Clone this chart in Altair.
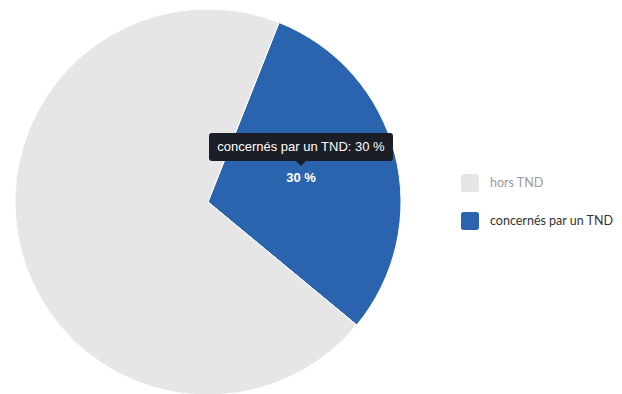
import math
import altair as alt
import pandas as pd

categories = ["concernés par un TND", "hors TND"]
values = [30, 70]
labels = ["30 %", ""]
tooltips = ["concernés par un TND: 30 %", ""]
order = [0, 1]
legend_order = ["hors TND", "concernés par un TND"]
colors = ["#e6e6e6", "#2a64af"]

df = pd.DataFrame({
    "category": categories,
    "value": values,
    "label": labels,
    "tip": tooltips,
    "order": order,
})

start = math.radians(21.6)
theta_scale = alt.Scale(range=[start, start + 2 * math.pi])
CX, CY, R = 208, 202, 193

base = alt.Chart(df)

arc = base.mark_arc(outerRadius=R, stroke="white", strokeWidth=1).encode(
    theta=alt.Theta("value:Q", stack=True, scale=theta_scale),
    order=alt.Order("order:Q"),
    color=alt.Color(
        "category:N",
        scale=alt.Scale(domain=legend_order, range=colors),
        legend=alt.Legend(
            title=None,
            orient="none",
            legendX=461,
            legendY=174,
            symbolType="M-1,-0.7Q-1,-1,-0.7,-1L0.7,-1Q1,-1,1,-0.7L1,0.7Q1,1,0.7,1L-0.7,1Q-1,1,-1,0.7Z",
            symbolSize=324,
            symbolStrokeWidth=0,
            rowPadding=20,
            labelOffset=11,
            labelFont="Lato",
            labelFontSize=12.5,
            labelColor=alt.ExprRef(expr="datum.label == 'hors TND' ? '#9a9a9a' : '#333333'"),
            labelLimit=300,
        ),
    ),
    x=alt.value(CX),
    y=alt.value(CY),
)

label = base.mark_text(radius=96, font="Liberation Sans", fontSize=13, fontWeight="bold", color="white").encode(
    theta=alt.Theta("value:Q", stack=True, scale=theta_scale),
    order=alt.Order("order:Q"),
    text="label:N",
    x=alt.value(CX),
    y=alt.value(CY),
)

box_path = ("M-0.967,-0.152L0.967,-0.152Q1,-0.152,1,-0.12L1,0.12Q1,0.152,0.967,0.152"
            "L0.054,0.152L0,0.207L-0.054,0.152L-0.967,0.152Q-1,0.152,-1,0.12L-1,-0.12Q-1,-0.152,-0.967,-0.152Z")
box = alt.Chart(pd.DataFrame({"k": [0]})).mark_point(
    shape=box_path, filled=True, fill="#1b1e26", opacity=1, strokeWidth=0, size=184 * 184
).encode(x=alt.value(301), y=alt.value(147))

tip = base.mark_text(radius=96, dy=-31, font="Liberation Sans", fontSize=13, color="white").encode(
    theta=alt.Theta("value:Q", stack=True, scale=theta_scale),
    order=alt.Order("order:Q"),
    text="tip:N",
    x=alt.value(CX),
    y=alt.value(CY),
)

chart = alt.layer(arc, box, tip, label).properties(
    width=416, height=394, padding={"left": 0, "top": 0, "right": 206, "bottom": 0},
    autosize="none",
).configure_view(stroke=None)

chart.save("out.html", embed_options={"renderer": "svg", "actions": False})
